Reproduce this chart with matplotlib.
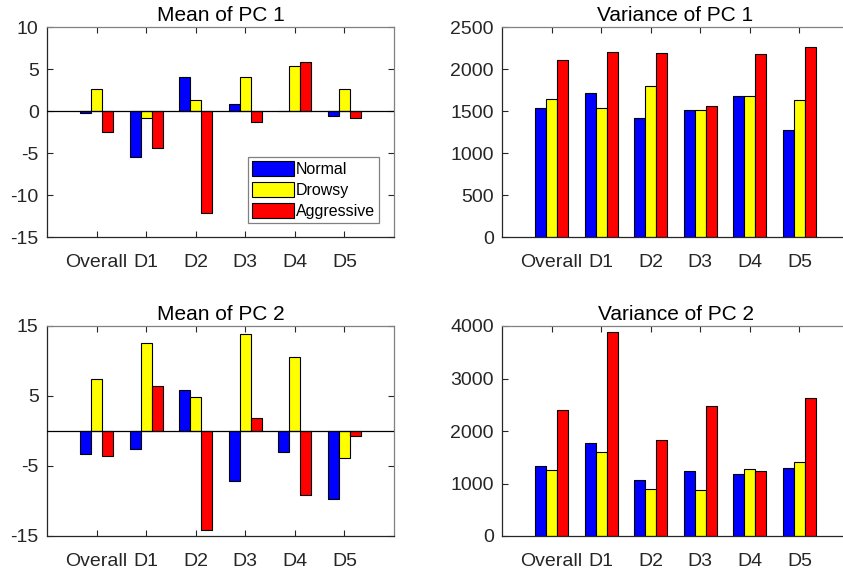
import numpy as np
import matplotlib.pyplot as plt

plt.rcParams['font.family'] = ['Liberation Sans', 'DejaVu Sans']
plt.rcParams['axes.unicode_minus'] = False

groups = ['Overall', 'D1', 'D2', 'D3', 'D4', 'D5']
classes = ['Normal', 'Drowsy', 'Aggressive']
colors = ['#0000ff', '#ffff00', '#ff0000']

# rows: Normal, Drowsy, Aggressive
mean_pc1 = [
    [-0.2, -5.5, 4.0, 0.85, 0.05, -0.65],
    [2.6, -0.85, 1.3, 4.0, 5.4, 2.6],
    [-2.5, -4.4, -12.1, -1.3, 5.85, -0.85],
]
var_pc1 = [
    [1530, 1710, 1420, 1515, 1680, 1278],
    [1638, 1540, 1800, 1515, 1673, 1630],
    [2105, 2203, 2195, 1555, 2184, 2267],
]
mean_pc2 = [
    [-3.3, -2.6, 5.8, -7.1, -2.95, -9.65],
    [7.4, 12.6, 4.9, 13.8, 10.6, -3.85],
    [-3.6, 6.4, -14.1, 1.8, -9.1, -0.65],
]
var_pc2 = [
    [1331, 1764, 1064, 1229, 1185, 1293],
    [1255, 1605, 904, 873, 1274, 1414],
    [2401, 3892, 1828, 2478, 1229, 2631],
]

panels = [
    (mean_pc1, 'Mean of PC 1', (-15, 10), [-15, -10, -5, 0, 5, 10]),
    (var_pc1, 'Variance of PC 1', (0, 2500), [0, 500, 1000, 1500, 2000, 2500]),
    (mean_pc2, 'Mean of PC 2', (-15, 15), [-15, -5, 5, 15]),
    (var_pc2, 'Variance of PC 2', (0, 4000), [0, 1000, 2000, 3000, 4000]),
]

W, H = 843, 573
fig = plt.figure(figsize=(W / 100, H / 100), dpi=100)

# axes boxes in pixels: left, top, right, bottom
boxes = [(47, 27, 394, 237), (502, 27, 849, 237),
         (47, 326, 394, 536), (502, 326, 849, 536)]

x = np.arange(1, len(groups) + 1)
bw = 0.222
offsets = [-bw, 0, bw]

for i, ((data, title, ylim, yticks), (l, t, r, b)) in enumerate(zip(panels, boxes)):
    ax = fig.add_axes([l / W, 1 - b / H, (r - l) / W, (b - t) / H])
    for k in range(3):
        ax.bar(x + offsets[k], data[k], width=bw, color=colors[k],
               edgecolor='black', linewidth=0.8, label=classes[k], zorder=2)
    if ylim[0] < 0:
        ax.axhline(0, color='black', linewidth=0.9, zorder=3)
    ax.set_xlim(0, 7)
    ax.set_ylim(*ylim)
    ax.set_xticks(x)
    ax.set_xticklabels(groups)
    ax.set_yticks(yticks)
    right_col = i % 2 == 1
    ax.tick_params(direction='in', top=True, right=not right_col, length=4,
                   width=0.8, labelsize=14, colors='#262626')
    ax.tick_params(axis='x', pad=12)
    ax.tick_params(axis='y', pad=6)
    for side in ['left', 'bottom']:
        ax.spines[side].set_color('#262626')
    for side in ['top', 'right']:
        ax.spines[side].set_color('#808080')
    for s in ax.spines.values():
        s.set_linewidth(0.9)
    if right_col:
        ax.spines['right'].set_visible(False)
    ax.set_title(title, fontsize=15, pad=4)
    if title == 'Mean of PC 1':
        leg = ax.legend(loc='lower right', bbox_to_anchor=(0.957, 0.067),
                        borderaxespad=0, fontsize=11.5, fancybox=False,
                        framealpha=1, edgecolor='#808080',
                        handlelength=2.6, handleheight=1.1,
                        handletextpad=0.15, borderpad=0.25, labelspacing=0.3)
        leg.get_frame().set_linewidth(0.9)

fig.savefig('out.png', dpi=100)
